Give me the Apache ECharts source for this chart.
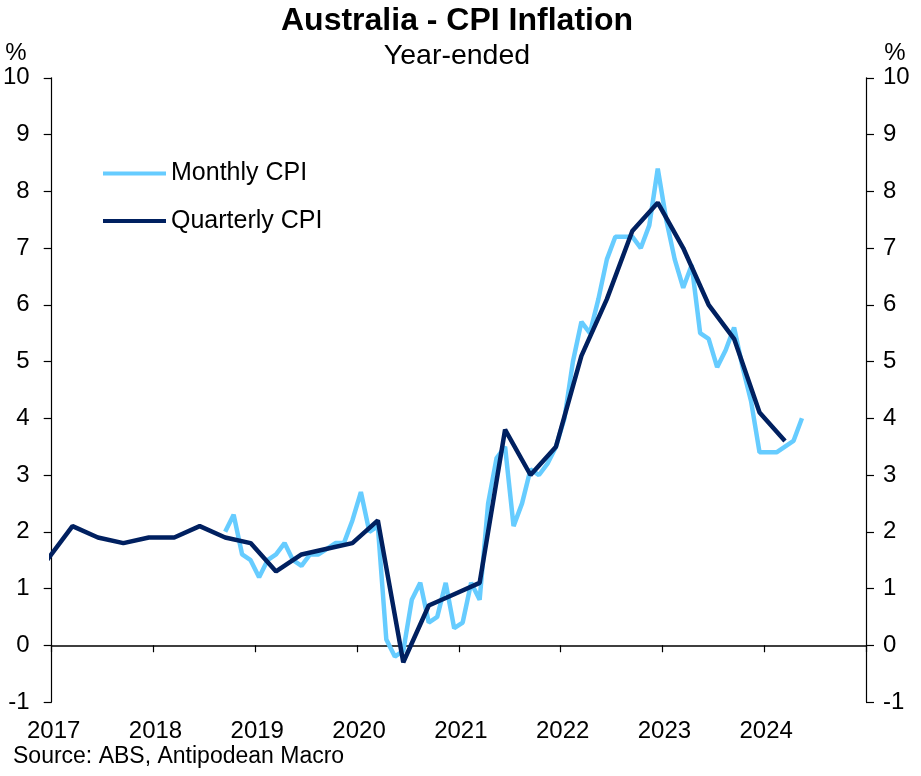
<!DOCTYPE html>
<html>
<head>
<meta charset="utf-8">
<script src="https://cdn.jsdelivr.net/npm/echarts@6/dist/echarts.min.js"></script>
<style>
html,body{margin:0;padding:0;background:#fff;}
#chart{width:921px;height:776px;}
</style>
</head>
<body>
<div id="chart"></div>
<script>
const monthlyMonths = [
  '2018-09','2018-10','2018-11','2018-12',
  '2019-01','2019-02','2019-03','2019-04','2019-05','2019-06','2019-07','2019-08','2019-09','2019-10','2019-11','2019-12',
  '2020-01','2020-02','2020-03','2020-04','2020-05','2020-06','2020-07','2020-08','2020-09','2020-10','2020-11','2020-12',
  '2021-01','2021-02','2021-03','2021-04','2021-05','2021-06','2021-07','2021-08','2021-09','2021-10','2021-11','2021-12',
  '2022-01','2022-02','2022-03','2022-04','2022-05','2022-06','2022-07','2022-08','2022-09','2022-10','2022-11','2022-12',
  '2023-01','2023-02','2023-03','2023-04','2023-05','2023-06','2023-07','2023-08','2023-09','2023-10','2023-11','2023-12',
  '2024-01','2024-02','2024-03','2024-04','2024-05'
];
const monthlyCPI = [
  2.0, 2.3, 1.6, 1.5,
  1.2, 1.5, 1.6, 1.8, 1.5, 1.4, 1.6, 1.6, 1.7, 1.8, 1.8, 2.2,
  2.7, 2.0, 2.1, 0.1, -0.2, -0.1, 0.8, 1.1, 0.4, 0.5, 1.1, 0.3,
  0.4, 1.1, 0.8, 2.5, 3.3, 3.5, 2.1, 2.5, 3.1, 3.0, 3.2, 3.5,
  4.0, 5.0, 5.7, 5.5, 6.1, 6.8, 7.2, 7.2, 7.2, 7.0, 7.4, 8.4,
  7.5, 6.8, 6.3, 6.7, 5.5, 5.4, 4.9, 5.2, 5.6, 4.9, 4.3, 3.4,
  3.4, 3.4, 3.5, 3.6, 4.0
];
const quarterlyMonths = [
  '2016-12',
  '2017-03','2017-06','2017-09','2017-12',
  '2018-03','2018-06','2018-09','2018-12',
  '2019-03','2019-06','2019-09','2019-12',
  '2020-03','2020-06','2020-09','2020-12',
  '2021-03','2021-06','2021-09','2021-12',
  '2022-03','2022-06','2022-09','2022-12',
  '2023-03','2023-06','2023-09','2023-12',
  '2024-03'
];
const quarterlyCPI = [
  1.5,
  2.1, 1.9, 1.8, 1.9,
  1.9, 2.1, 1.9, 1.8,
  1.3, 1.6, 1.7, 1.8,
  2.2, -0.3, 0.7, 0.9,
  1.1, 3.8, 3.0, 3.5,
  5.1, 6.1, 7.3, 7.8,
  7.0, 6.0, 5.4, 4.1,
  3.6
];
const yearMin = 2017, yearMax = 2025;
const yMin = -1, yMax = 10;

function toX(s){ const p = s.split('-').map(Number); return p[0] + (p[1] - 1 + 0.45) / 12; }
const monthlyData = monthlyMonths.map((d, i) => [toX(d), monthlyCPI[i]]);
const quarterlyData = quarterlyMonths.map((d, i) => [toX(d), quarterlyCPI[i]]);

const FONT = '"Liberation Sans", Arial, sans-serif';
const chart = echarts.init(document.getElementById('chart'), null, {renderer: 'canvas'});

const yAxisBase = {
  type: 'value', min: yMin, max: yMax, interval: 1,
  axisLine: {show: true, onZero: false, lineStyle: {color: '#000', width: 1.2}},
  axisTick: {show: true, inside: false, length: 8, lineStyle: {color: '#000', width: 1.2}},
  splitLine: {show: false},
  axisLabel: {color: '#000', fontSize: 24, fontFamily: FONT}
};

chart.setOption({
  animation: false,
  backgroundColor: '#fff',
  grid: {left: 51.7, right: 55, top: 77.8, bottom: 74, containLabel: false},
  legend: {
    orient: 'vertical', left: 103, top: 161, padding: 0,
    itemWidth: 63, itemHeight: 4, itemGap: 22.6, icon: 'rect',
    textStyle: {color: '#000', fontSize: 25, lineHeight: 25, fontFamily: FONT},
    data: ['Monthly CPI', 'Quarterly CPI']
  },
  xAxis: [
    {
      type: 'value', min: yearMin, max: yearMax, interval: 1, position: 'top',
      axisLine: {show: true, onZero: true, lineStyle: {color: '#000', width: 1.5}},
      axisTick: {show: true, inside: true, length: 7, lineStyle: {color: '#000', width: 1.2}},
      axisLabel: {show: false},
      splitLine: {show: false}
    },
    {
      type: 'value', min: yearMin, max: yearMax, interval: 1, position: 'bottom',
      axisLine: {show: false, onZero: false},
      axisTick: {show: false},
      splitLine: {show: false},
      axisLabel: {
        color: '#000', fontSize: 24, fontFamily: FONT, margin: 17,
        showMaxLabel: false, padding: [0, 0, 0, 4],
        formatter: v => (v < yearMax ? String(v) : '')
      }
    }
  ],
  yAxis: [
    Object.assign({}, yAxisBase, {position: 'left', axisLabel: Object.assign({}, yAxisBase.axisLabel, {margin: 22})}),
    Object.assign({}, yAxisBase, {position: 'right', axisLabel: Object.assign({}, yAxisBase.axisLabel, {margin: 17})})
  ],
  series: [
    {
      name: 'Monthly CPI', type: 'line', xAxisIndex: 1, yAxisIndex: 0,
      data: monthlyData, showSymbol: false, symbol: 'none', clip: true,
      lineStyle: {color: '#66CCFF', width: 4.5}, itemStyle: {color: '#66CCFF'}, z: 2
    },
    {
      name: 'Quarterly CPI', type: 'line', xAxisIndex: 1, yAxisIndex: 0,
      data: quarterlyData, showSymbol: false, symbol: 'none', clip: true,
      lineStyle: {color: '#002060', width: 4.5}, itemStyle: {color: '#002060'}, z: 3
    }
  ],
  graphic: [
    {type: 'text', x: 457, y: 21, style: {text: 'Australia - CPI Inflation', fill: '#000', font: 'bold 32px ' + FONT, textAlign: 'center', textVerticalAlign: 'middle'}},
    {type: 'text', x: 457, y: 56, style: {text: 'Year-ended', fill: '#000', font: '28.5px ' + FONT, textAlign: 'center', textVerticalAlign: 'middle'}},
    {type: 'text', x: 16, y: 53, style: {text: '%', fill: '#000', font: '24px ' + FONT, textAlign: 'center', textVerticalAlign: 'middle'}},
    {type: 'text', x: 895, y: 53, style: {text: '%', fill: '#000', font: '24px ' + FONT, textAlign: 'center', textVerticalAlign: 'middle'}},
    {type: 'text', x: 13, y: 757, style: {text: 'Source: ABS, Antipodean Macro', fill: '#000', font: '23px ' + FONT, textAlign: 'left', textVerticalAlign: 'middle'}}
  ]
});
</script>
</body>
</html>
